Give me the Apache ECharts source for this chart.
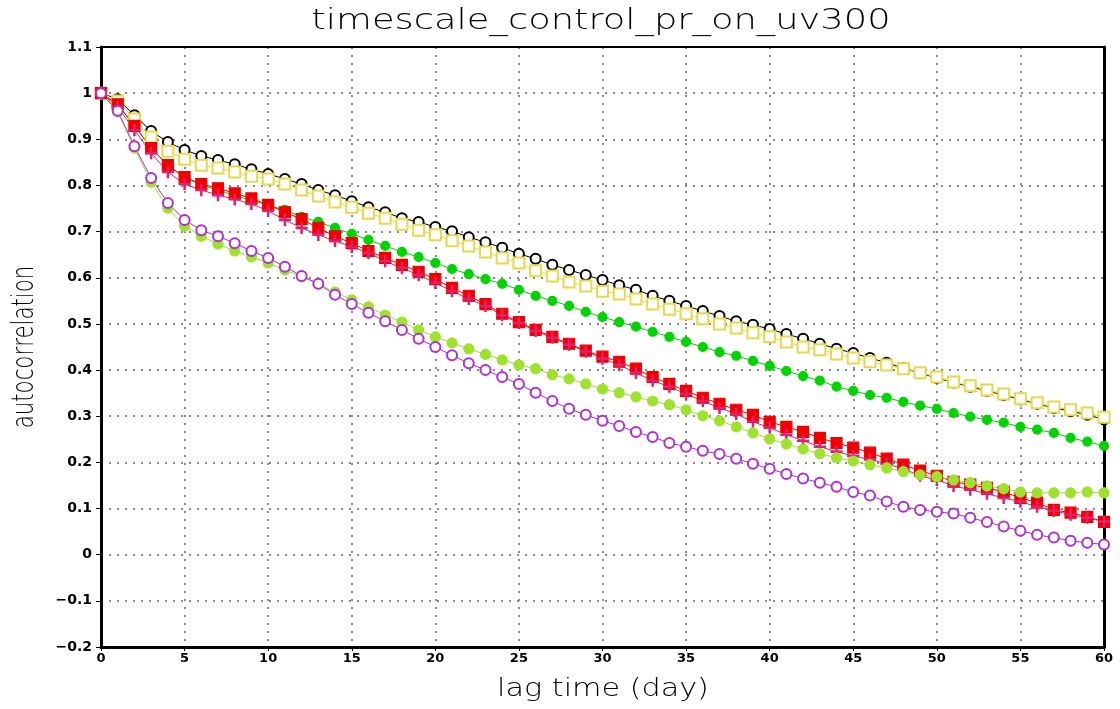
<!DOCTYPE html>
<html>
<head>
<meta charset="utf-8">
<script src="https://cdn.jsdelivr.net/npm/echarts@6/dist/echarts.min.js"></script>
<style>html,body{margin:0;padding:0;background:#fff;}#c{width:1120px;height:709px;}</style>
</head>
<body>
<div id="c"></div>
<script>
var lags = [];
for (var i = 0; i <= 60; i++) lags.push(i);

var blackCircle = [1.0,0.987,0.952,0.918,0.894,0.877,0.864,0.855,0.846,0.835,0.825,0.814,0.803,0.79,0.779,0.766,0.753,0.742,0.729,0.721,0.71,0.701,0.688,0.677,0.665,0.652,0.641,0.628,0.617,0.606,0.595,0.584,0.574,0.561,0.55,0.539,0.528,0.517,0.506,0.498,0.489,0.478,0.468,0.457,0.446,0.437,0.426,0.416,0.404,0.393,0.383,0.373,0.364,0.355,0.346,0.336,0.327,0.318,0.311,0.303,0.293];
var yellowSquare = [1.0,0.983,0.944,0.905,0.874,0.857,0.844,0.838,0.829,0.82,0.814,0.803,0.79,0.777,0.764,0.753,0.74,0.729,0.716,0.703,0.693,0.68,0.669,0.656,0.643,0.632,0.615,0.604,0.591,0.582,0.571,0.565,0.554,0.543,0.532,0.522,0.511,0.5,0.491,0.481,0.472,0.461,0.45,0.444,0.435,0.426,0.418,0.411,0.403,0.394,0.385,0.374,0.366,0.357,0.348,0.338,0.329,0.32,0.314,0.307,0.298];
var greenDot = [1.0,0.975,0.93,0.882,0.843,0.817,0.801,0.79,0.778,0.768,0.757,0.747,0.732,0.721,0.708,0.695,0.682,0.669,0.656,0.645,0.632,0.619,0.608,0.597,0.587,0.574,0.561,0.55,0.539,0.526,0.515,0.504,0.494,0.483,0.472,0.461,0.45,0.439,0.431,0.42,0.409,0.398,0.387,0.377,0.364,0.355,0.346,0.34,0.331,0.323,0.316,0.307,0.299,0.292,0.286,0.277,0.271,0.264,0.253,0.245,0.236];
var redSquare = [1.0,0.976,0.929,0.881,0.844,0.818,0.803,0.794,0.783,0.772,0.758,0.742,0.727,0.708,0.69,0.675,0.658,0.643,0.628,0.613,0.597,0.578,0.561,0.543,0.522,0.504,0.487,0.472,0.457,0.442,0.429,0.418,0.403,0.385,0.37,0.355,0.34,0.327,0.314,0.303,0.288,0.277,0.266,0.253,0.242,0.232,0.221,0.208,0.195,0.182,0.171,0.158,0.152,0.145,0.136,0.123,0.113,0.097,0.091,0.082,0.071];
var pinkPlus = [1.0,0.97,0.92,0.87,0.829,0.803,0.79,0.779,0.77,0.76,0.745,0.725,0.708,0.693,0.68,0.667,0.654,0.636,0.621,0.606,0.589,0.571,0.554,0.539,0.519,0.502,0.485,0.47,0.455,0.44,0.425,0.411,0.394,0.377,0.364,0.348,0.333,0.318,0.305,0.288,0.275,0.26,0.247,0.234,0.223,0.214,0.206,0.197,0.186,0.171,0.162,0.149,0.141,0.132,0.123,0.115,0.104,0.095,0.087,0.08,0.072];
var limeDot = [1.0,0.959,0.881,0.807,0.751,0.712,0.69,0.673,0.658,0.645,0.632,0.617,0.602,0.587,0.569,0.552,0.537,0.519,0.504,0.487,0.472,0.459,0.446,0.434,0.422,0.411,0.403,0.39,0.381,0.37,0.359,0.351,0.342,0.333,0.325,0.314,0.301,0.29,0.277,0.264,0.251,0.24,0.229,0.219,0.21,0.203,0.195,0.188,0.18,0.173,0.169,0.162,0.156,0.149,0.143,0.136,0.134,0.134,0.134,0.136,0.134];
var purpleCircle = [1.0,0.962,0.885,0.816,0.762,0.725,0.703,0.69,0.675,0.658,0.643,0.624,0.604,0.587,0.563,0.543,0.524,0.506,0.487,0.468,0.45,0.432,0.415,0.4,0.385,0.37,0.351,0.333,0.316,0.303,0.29,0.279,0.266,0.255,0.242,0.234,0.225,0.218,0.208,0.197,0.186,0.175,0.165,0.156,0.147,0.136,0.128,0.115,0.104,0.097,0.093,0.089,0.08,0.071,0.061,0.052,0.043,0.037,0.03,0.026,0.022];

var titleText = 'timescale_control_pr_on_uv300';
var xName = 'lag time (day)';
var yName = 'autocorrelation';

function pairs(arr) { return lags.map(function (l, i) { return [l, arr[i]]; }); }

var plusPath = 'path://M5.3,0 h1.4 v5.3 h5.3 v1.4 h-5.3 v5.3 h-1.4 v-5.3 h-5.3 v-1.4 h5.3 z';

function mk(name, data, color, symbol, size) {
  return {
    name: name, type: 'line', data: pairs(data), symbol: symbol, symbolSize: size,
    showSymbol: true, animation: false, xAxisIndex: 0, yAxisIndex: 0,
    lineStyle: { color: color, width: 1 },
    itemStyle: { color: color, borderColor: color, borderWidth: 1.2 },
    emphasis: { disabled: true }
  };
}

var dots = { color: '#888', type: [2, 6], width: 2 };

var chart = echarts.init(document.getElementById('c'), null, { renderer: 'canvas' });
chart.setOption({
  animation: false,
  backgroundColor: '#fff',
  graphic: [
    { type: 'text', x: 601, y: 21, scaleX: 1.27, silent: true,
      style: { text: titleText, fontFamily: 'DejaVu Sans', fontWeight: 300, fontSize: 29, fill: '#000', align: 'center', verticalAlign: 'middle' } },
    { type: 'text', x: 603, y: 690, scaleX: 1.26, silent: true,
      style: { text: xName, fontFamily: 'DejaVu Sans', fontWeight: 300, fontSize: 24, fill: '#000', align: 'center', verticalAlign: 'middle' } },
    { type: 'text', x: 25, y: 347, rotation: Math.PI / 2, scaleX: 0.71, silent: true,
      style: { text: yName, fontFamily: 'DejaVu Sans', fontWeight: 300, fontSize: 30, fill: '#000', align: 'center', verticalAlign: 'middle' } }
  ],
  grid: { left: 101, right: 16, top: 47, bottom: 62, containLabel: false, outerBoundsMode: 'none', show: false },
  xAxis: [{
    type: 'value', min: 0, max: 60, interval: 5, position: 'bottom',
    axisLine: { show: true, onZero: false, lineStyle: { color: '#000', width: 3 } },
    axisTick: { show: true, length: 4, lineStyle: { color: '#000' } },
    axisLabel: { color: '#000', fontFamily: 'DejaVu Sans', fontWeight: 'bold', fontSize: 13, margin: 5 },
    splitLine: { show: true, lineStyle: dots }
  }, {
    type: 'value', min: 0, max: 60, interval: 5, position: 'top',
    axisLine: { show: true, onZero: false, lineStyle: { color: '#000', width: 2 } },
    axisTick: { show: false }, axisLabel: { show: false }, splitLine: { show: false }
  }],
  yAxis: [{
    type: 'value', min: -0.2, max: 1.1, interval: 0.1, position: 'left',
    axisLine: { show: true, onZero: false, lineStyle: { color: '#000', width: 3 } },
    axisTick: { show: true, length: 5, lineStyle: { color: '#000' } },
    axisLabel: {
      color: '#000', fontFamily: 'DejaVu Sans', fontWeight: 'bold', fontSize: 14, margin: 9,
      formatter: function (v) {
        var r = Math.round(v * 10) / 10;
        var s = (Math.abs(r) < 1e-9) ? '0' : String(Math.abs(r));
        return (r < -1e-9 ? '\u2212' : '') + s;
      }
    },
    splitLine: { show: true, lineStyle: dots }
  }, {
    type: 'value', min: -0.2, max: 1.1, interval: 0.1, position: 'right',
    axisLine: { show: true, onZero: false, lineStyle: { color: '#000', width: 3 } },
    axisTick: { show: false }, axisLabel: { show: false }, splitLine: { show: false }
  }],
  series: [
    mk('black', blackCircle, '#000000', 'emptyCircle', 10),
    mk('yellow', yellowSquare, '#e8d84c', 'emptyRect', 11),
    mk('green', greenDot, '#00d400', 'circle', 9),
    mk('red', redSquare, '#f20000', 'rect', 11),
    mk('pink', pinkPlus, '#e0206e', plusPath, 11),
    mk('lime', limeDot, '#9ee22e', 'circle', 10),
    mk('purple', purpleCircle, '#b02ed4', 'emptyCircle', 10)
  ]
});
</script>
</body>
</html>
